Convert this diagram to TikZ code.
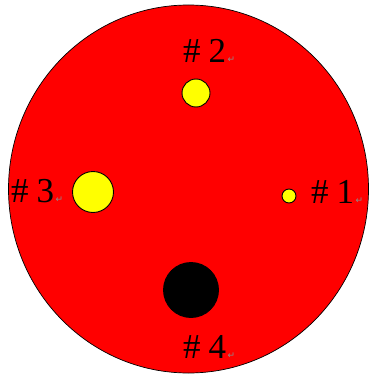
\documentclass[tikz,border=0pt]{standalone}
\usepackage{fontspec}
\setmainfont{Liberation Serif}
\newfontfamily\markfont{DejaVu Sans}
\definecolor{discred}{RGB}{255,0,0}
\definecolor{holeyellow}{RGB}{255,255,0}
\definecolor{markgray}{RGB}{140,140,140}
\usetikzlibrary{positioning}

\begin{document}
\begin{tikzpicture}[
  x=1pt,y=-1pt,
  hole/.style={circle,draw=black,fill=holeyellow,line width=0.9pt,inner sep=0pt},
  numlabel/.style={anchor=base west,inner sep=0pt,font=\fontsize{35}{35}\selectfont},
  retmark/.style={anchor=base west,inner sep=0pt,text=markgray,font=\markfont\fontsize{9}{9}\selectfont},
]
  \useasboundingbox (0,0) rectangle (369,377);

  % Disc
  \draw[fill=discred,line width=0.7pt] (188.5,189) ellipse [x radius=180,y radius=184];

  % Holes
  \node[hole,minimum size=14pt] (h1) at (289,196) {};
  \node[hole,minimum size=28pt] (h2) at (196,93) {};
  \node[hole,minimum size=41pt] (h3) at (93,192) {};
  \node[hole,fill=black,minimum size=55pt] (h4) at (191,290) {};

  % Labels
  \node[numlabel] (l1) at (311,203) {\#\hspace{8pt}1};
  \node[numlabel] (l2) at (183,63) {\#\hspace{8pt}2};
  \node[numlabel] (l3) at (11,202) {\#\hspace{8pt}3};
  \node[numlabel] (l4) at (183,358) {\#\hspace{8pt}4};

  % Paragraph marks
  \node[retmark,right=1pt of l1.base east,anchor=base west] (r1) {↵};
  \node[retmark,right=1pt of l2.base east,anchor=base west] (r2) {↵};
  \node[retmark,right=1pt of l3.base east,anchor=base west] (r3) {↵};
  \node[retmark,right=1pt of l4.base east,anchor=base west] (r4) {↵};
\end{tikzpicture}
\end{document}
